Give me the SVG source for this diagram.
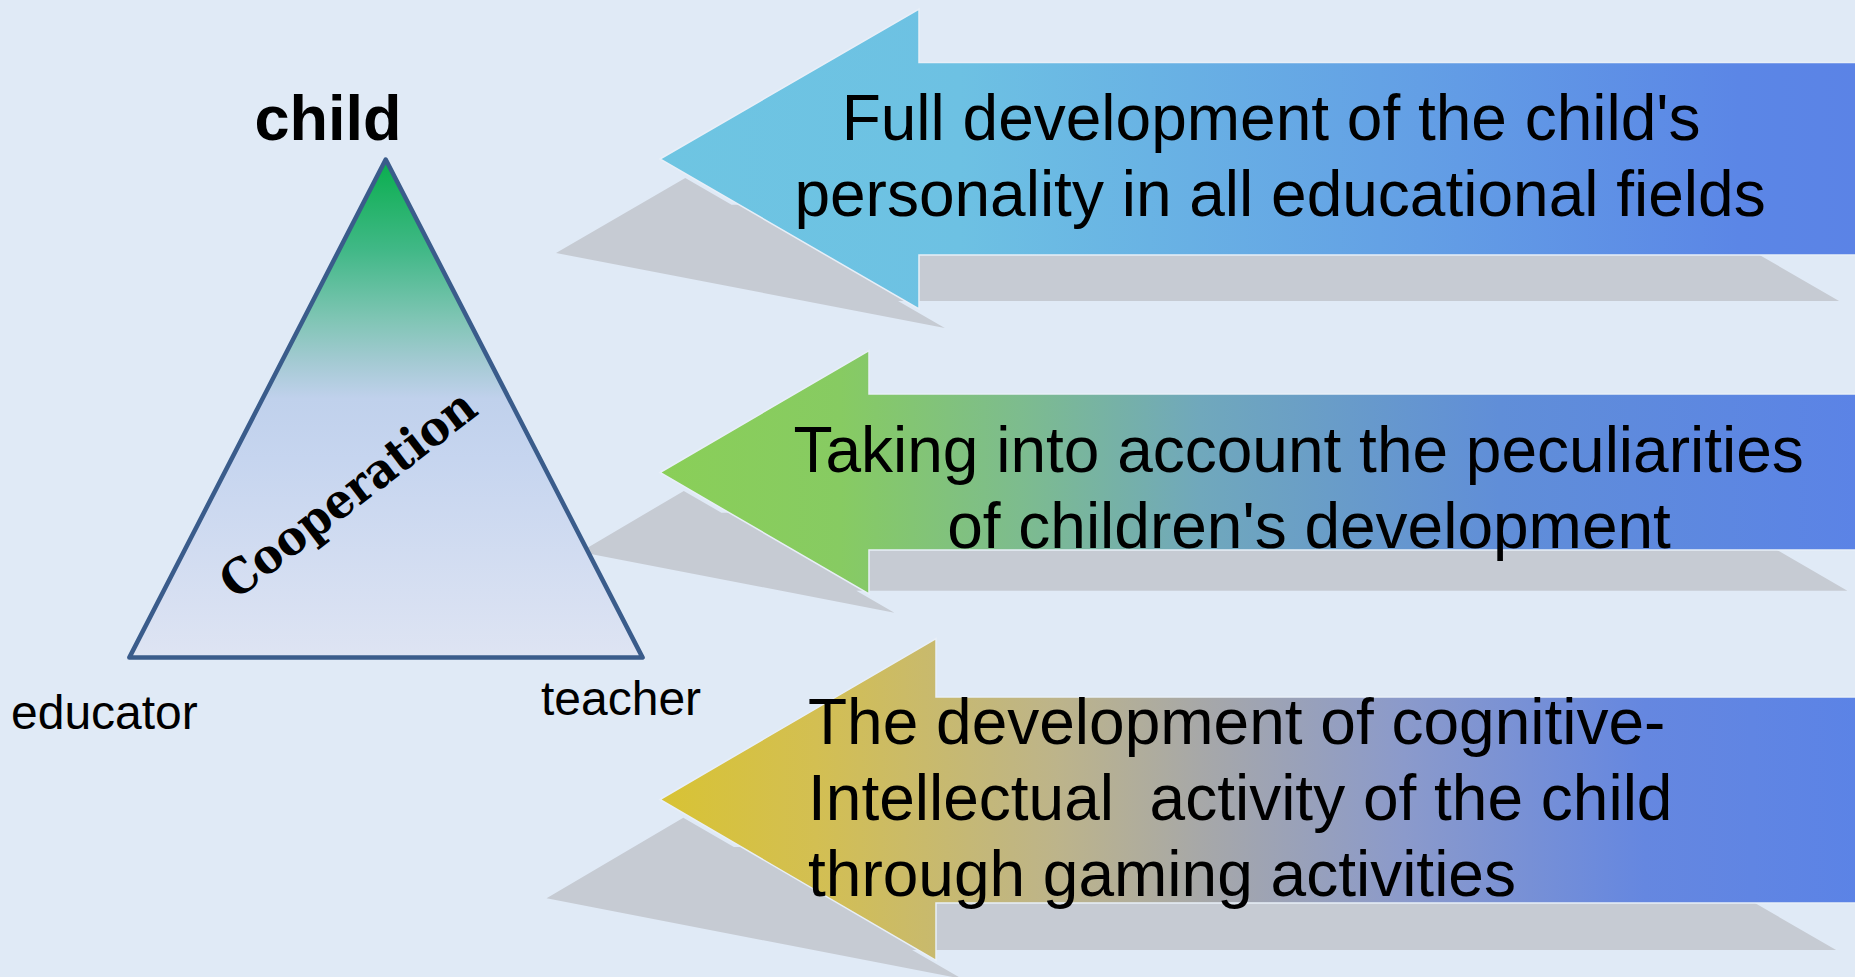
<svg xmlns="http://www.w3.org/2000/svg" width="1855" height="977" viewBox="0 0 1855 977">
  <style>
    .shadow { fill: #C6CBD3; }
    .arrow { stroke: #E8EFF8; stroke-width: 1.5; stroke-linejoin: miter; }
    .label { font-family: "Liberation Sans", Arial, sans-serif; fill: #000; }
    .big { font-size: 64px; }
  </style>
  <defs>
    <linearGradient id="triGrad" x1="0" y1="159" x2="0" y2="658" gradientUnits="userSpaceOnUse">
      <stop offset="0" stop-color="#08AE4C"/>
      <stop offset="0.18" stop-color="#40B886"/>
      <stop offset="0.32" stop-color="#7FC5B4"/>
      <stop offset="0.41" stop-color="#A5CAD4"/>
      <stop offset="0.48" stop-color="#C0D1EC"/>
      <stop offset="0.6" stop-color="#C6D5EF"/>
      <stop offset="1" stop-color="#DEE4F3"/>
    </linearGradient>
    <linearGradient id="g1" x1="660" y1="0" x2="1860" y2="0" gradientUnits="userSpaceOnUse">
      <stop offset="0" stop-color="#6EC5E2"/>
      <stop offset="0.25" stop-color="#6DC1E3"/>
      <stop offset="0.6" stop-color="#64A2E5"/>
      <stop offset="0.9" stop-color="#5B86E6"/>
      <stop offset="1" stop-color="#5B83E6"/>
    </linearGradient>
    <linearGradient id="g2" x1="660" y1="0" x2="1860" y2="0" gradientUnits="userSpaceOnUse">
      <stop offset="0" stop-color="#8ACF58"/>
      <stop offset="0.15" stop-color="#87CB62"/>
      <stop offset="0.3" stop-color="#7DBC8E"/>
      <stop offset="0.45" stop-color="#70A8BC"/>
      <stop offset="0.7" stop-color="#608ED8"/>
      <stop offset="1" stop-color="#5B83E6"/>
    </linearGradient>
    <linearGradient id="g3" x1="660" y1="0" x2="1860" y2="0" gradientUnits="userSpaceOnUse">
      <stop offset="0" stop-color="#D8C334"/>
      <stop offset="0.13" stop-color="#D3BF52"/>
      <stop offset="0.33" stop-color="#BDB48A"/>
      <stop offset="0.45" stop-color="#A7A8A8"/>
      <stop offset="0.62" stop-color="#8B9ACB"/>
      <stop offset="0.82" stop-color="#6587E0"/>
      <stop offset="1" stop-color="#5B83E6"/>
    </linearGradient>
  </defs>

  <rect x="0" y="0" width="1855" height="977" fill="#E0EAF6"/>

  <g id="shadows">
    <path class="shadow" transform="matrix(1 0 0.865 0.5 -241.5 173.5)" d="M660,159 L919,9 L919,62.5 L1860,62.5 L1860,255 L919,255 L919,309 Z"/>
    <path class="shadow" transform="matrix(1 0 0.865 0.5 -488.4 315.7)" d="M660,472.5 L869,350.5 L869,394 L1860,394 L1860,550 L869,550 L869,594 Z"/>
    <path class="shadow" transform="matrix(1 0 0.865 0.5 -805 498.5)" d="M660,799.5 L936,638.5 L936,697 L1860,697 L1860,903 L936,903 L936,960.5 Z"/>
  </g>

  <g id="triangle">
    <path d="M385.7,159.5 L642.6,657.6 L129.3,657.6 Z" fill="url(#triGrad)" stroke="#3A5C8B" stroke-width="4.5" stroke-linejoin="round"/>
    <text class="label" x="328" y="140" font-size="63" font-weight="bold" text-anchor="middle">child</text>
    <text class="label" x="11" y="729" font-size="48">educator</text>
    <text class="label" x="541" y="715" font-size="48">teacher</text>
    <text transform="translate(358,507) rotate(-37.5)" x="0" y="0" text-anchor="middle" font-family="'DejaVu Serif', serif" font-weight="bold" font-size="48" textLength="308" lengthAdjust="spacingAndGlyphs" fill="#000">Cooperation</text>
  </g>

  <g id="arrow1">
    <path class="arrow" fill="url(#g1)" d="M660,159 L919,9 L919,62.5 L1860,62.5 L1860,255 L919,255 L919,309 Z"/>
    <text class="label big" text-anchor="middle">
      <tspan x="1280" y="140">Full development of the child's</tspan>
      <tspan x="1280" y="216">personality in all educational fields</tspan>
    </text>
  </g>

  <g id="arrow2">
    <path class="arrow" fill="url(#g2)" d="M660,472.5 L869,350.5 L869,394 L1860,394 L1860,550 L869,550 L869,594 Z"/>
    <text class="label big" text-anchor="middle">
      <tspan x="1307.5" y="472">Taking into account the peculiarities</tspan>
      <tspan x="1309" y="548">of children's development</tspan>
    </text>
  </g>

  <g id="arrow3">
    <path class="arrow" fill="url(#g3)" d="M660,799.5 L936,638.5 L936,697 L1860,697 L1860,903 L936,903 L936,960.5 Z"/>
    <text class="label big" xml:space="preserve"><tspan x="808" y="744">The development of cognitive-</tspan><tspan x="808" y="820">Intellectual  activity of the child</tspan><tspan x="808" y="896">through gaming activities</tspan></text>
  </g>
</svg>
